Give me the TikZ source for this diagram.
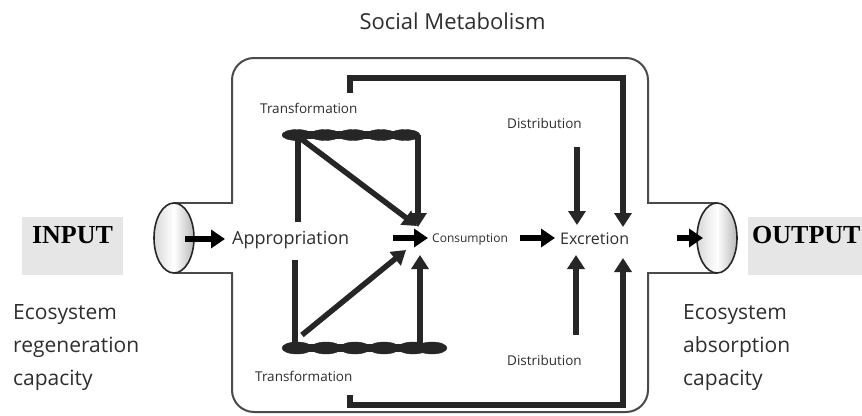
\documentclass[tikz,border=0pt]{standalone}
\usepackage{fontspec}
\setmainfont{Open Sans}
\newfontfamily\ioserif{Liberation Serif}
\usetikzlibrary{arrows.meta,shapes.geometric}
\definecolor{txt}{HTML}{2E2E2E}
\definecolor{flow}{HTML}{262626}
\definecolor{rim}{HTML}{4A4A4A}
\definecolor{iobox}{HTML}{E6E6E6}
\tikzset{
  lbl/.style={inner sep=0pt, text=txt, anchor=base west},
  outline/.style={draw=rim, line width=2pt, rounded corners=22pt},
  stub/.style={draw=rim, line width=2pt},
  flowline/.style={draw=flow, line width=5.5pt},
  flowarrow/.style={flowline, -{Triangle[width=17pt,length=14pt]}},
  bararrow/.style={draw=black, line width=6pt, -{Triangle[width=18pt,length=14pt]}},
  pipe/.style={ellipse, draw=black!85, line width=1.6pt, minimum width=40pt, minimum height=70pt, inner sep=0pt,
    left color=gray!30, right color=gray!55, middle color=white},
  blob/.style={fill=flow, draw=flow},
  iolabel/.style={inner sep=0pt, font=\ioserif\bfseries\fontsize{26}{30}\selectfont, text=black},
  eco/.style={inner sep=0pt, anchor=base west, align=left, text=txt, font=\fontsize{21}{33}\selectfont}
}
\begin{document}
\begin{tikzpicture}[x=1pt,y=-1pt]
\useasboundingbox (0,0) rectangle (862,415);

% grey boxes for INPUT / OUTPUT
\fill[iobox] (22,217) rectangle (123,275);
\fill[iobox] (748,217) rectangle (862,275);
\node[iolabel, anchor=base] (input) at (72.5,243) {INPUT};
\node[iolabel, anchor=base west] (output) at (752,243) {OUTPUT};

% title
\node[inner sep=0pt, anchor=base, text=txt, font=\fontsize{22}{26}\selectfont] (title) at (452.5,29) {Social Metabolism};

% pipe outline
\draw[outline] (232,203) -- (232,58) -- (648,58) -- (648,203);
\draw[outline] (232,273) -- (232,412) -- (648,412) -- (648,273);
\draw[stub] (174,203) -- (233,203);
\draw[stub] (174,273) -- (233,273);
\draw[stub] (647,203) -- (717,203);
\draw[stub] (647,273) -- (717,273);
\node[pipe] (inpipe) at (174,238) {};
\node[pipe] (outpipe) at (717,238) {};

% labels
\node[lbl, font=\fontsize{18}{21}\selectfont] (approp) at (232,244) {Appropriation};
\node[lbl, font=\fontsize{12}{14}\selectfont] (cons) at (432,242) {Consumption};
\node[lbl, font=\fontsize{16}{19}\selectfont] (excr) at (560,244) {Excretion};
\node[lbl, font=\fontsize{13.5}{16}\selectfont] (trT) at (260,113) {Transformation};
\node[lbl, font=\fontsize{13.5}{16}\selectfont] (trB) at (255,381) {Transformation};
\node[lbl, font=\fontsize{13.5}{16}\selectfont] (distT) at (507,128) {Distribution};
\node[lbl, font=\fontsize{13.5}{16}\selectfont] (distB) at (507,365) {Distribution};
\node[eco] (ecoL) at (13,385) {Ecosystem\\regeneration\\capacity};
\node[eco] (ecoR) at (683,385) {Ecosystem\\absorption\\capacity};

% transformation bars
\draw[flow, line width=8pt] (292,135) -- (410,135);
\foreach \cx in {297,325,353,381,405}
  \fill[blob] (\cx,135) ellipse [x radius=15pt, y radius=5.5pt];
\draw[flow, line width=8pt] (292,348) -- (437,348);
\foreach \cx in {297,326,355,384,413,432}
  \fill[blob] (\cx,348) ellipse [x radius=15pt, y radius=6pt];

% named points
\coordinate (tbL) at (298,135);
\coordinate (tbR) at (418,135);
\coordinate (bbL) at (295,348);
\coordinate (bbR) at (420,348);
\coordinate (cin) at (418,227);
\coordinate (cinD) at (417,226);
\coordinate (cinB) at (420,255);
\coordinate (cinBD) at (406,250);
\coordinate (loopT) at (350,93);
\coordinate (loopB) at (350,395);
\coordinate (exT) at (623,227);
\coordinate (exB) at (623,258);
\coordinate (dT) at (577,147);
\coordinate (dTe) at (577,225);
\coordinate (dB) at (576,335);
\coordinate (dBe) at (576,255);
\coordinate (inS) at (185,239);
\coordinate (inE) at (225,239);
\coordinate (cS) at (393,238);
\coordinate (cE) at (428,238);
\coordinate (eS) at (520,238);
\coordinate (eE) at (555,238);
\coordinate (oS) at (677,238);
\coordinate (oE) at (703,238);

% vertical supports of the bars
\draw[flowline] (tbL) -- (298,222);
\draw[flowline] (bbL) -- (295,260);

% transformation -> consumption
\draw[flowarrow] (300,138) -- (cinD);
\draw[flowarrow] (tbR) -- (cin);
\draw[flowarrow] (302,335) -- (cinBD);
\draw[flowarrow] (bbR) -- (cinB);

% distribution -> excretion
\draw[flowarrow] (dT) -- (dTe);
\draw[flowarrow] (dB) -- (dBe);

% outer loops -> excretion
\draw[flowarrow] (loopT) -- (350,78) -- (623,78) -- (exT);
\draw[flowarrow] (loopB) -- (350,405) -- (623,405) -- (exB);

% main horizontal flow
\draw[bararrow] (inS) -- (inE);
\draw[bararrow] (cS) -- (cE);
\draw[bararrow] (eS) -- (eE);
\draw[bararrow] (oS) -- (oE);
\end{tikzpicture}
\end{document}
